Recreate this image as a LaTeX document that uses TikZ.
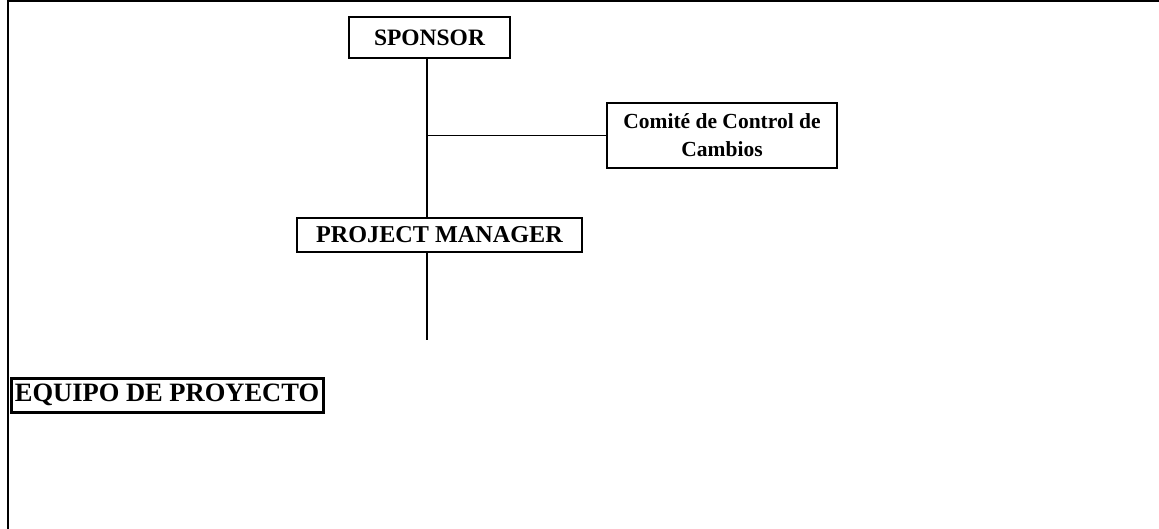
\documentclass[tikz,border=0pt]{standalone}
\usepackage{fontspec}
\setmainfont{Liberation Serif}
\begin{document}
\begin{tikzpicture}[x=1pt,y=-1pt,
  box/.style={draw,line width=1.3pt,inner sep=0pt,font=\bfseries},
  conn/.style={line width=1.3pt}]
\useasboundingbox (0,0) rectangle (1159,529);
% outer frame (top and left edges)
\draw[line width=2.4pt] (8,0) -- (8,529);
\draw[line width=2.4pt] (6.8,1.2) -- (1159,1.2);
% boxes
\node[box,minimum width=161pt,minimum height=41pt,font=\bfseries\fontsize{23.5}{26}\selectfont] (sp) at (429.5,37.5) {SPONSOR};
\node[box,minimum width=230pt,minimum height=65pt,align=center,font=\bfseries\fontsize{21.5}{28}\selectfont] (cc) at (722,135.5) {Comité de Control de\\Cambios};
\node[box,minimum width=285pt,minimum height=34pt,font=\bfseries\fontsize{24.2}{27}\selectfont] (pm) at (439.5,235) {PROJECT MANAGER};
\node[box,line width=3pt,minimum width=312pt,minimum height=34pt,font=\bfseries\fontsize{26.5}{30}\selectfont] (eq) at (167,395) {EQUIPO DE PROYECTO};
% connectors
\coordinate (j) at (427,135.5);
\coordinate (e) at (427,340);
\draw[conn] (sp.south -| j) -- (pm.north -| j);
\draw[conn] (j) -- (cc.west);
\draw[conn] (pm.south -| j) -- (e);
\end{tikzpicture}
\end{document}
